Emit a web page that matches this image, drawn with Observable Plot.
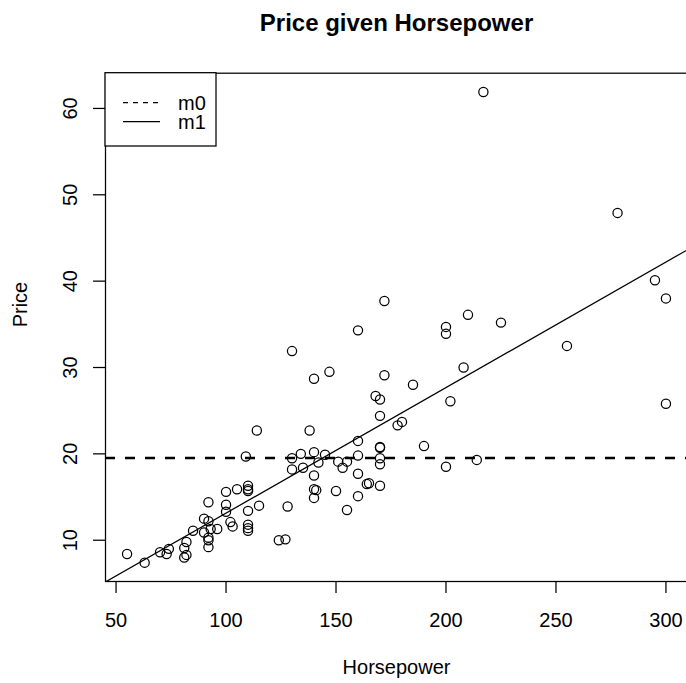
<!DOCTYPE html>
<html><head><meta charset="utf-8">
<script src="https://cdn.jsdelivr.net/npm/d3@7"></script>
<script src="https://cdn.jsdelivr.net/npm/@observablehq/plot@0.6"></script>
<style>
body{margin:0;background:#fff;}
#chart{position:relative;width:686px;height:683px;overflow:hidden;font-family:"Liberation Sans",Arial,Helvetica,sans-serif;}
#chart svg{font-family:"Liberation Sans",Arial,Helvetica,sans-serif;}
</style></head><body><div id="chart"></div>
<script>
const horsepower = [140,200,172,172,208,110,170,180,170,200,295,110,110,160,110,170,165,170,300,153,141,147,92,93,100,142,100,300,92,214,63,127,96,105,115,145,140,190,55,90,160,102,140,81,124,92,128,278,185,225,160,210,82,103,164,155,255,130,217,100,140,92,202,110,150,151,160,155,110,170,170,92,74,110,160,200,170,140,85,73,90,130,70,82,135,130,138,81,109,134,178,114,168];
const price = [15.9,33.9,29.1,37.7,30.0,15.7,20.8,23.7,26.3,34.7,40.1,13.4,11.4,15.1,15.9,16.3,16.6,18.8,38.0,18.4,15.8,29.5,9.2,11.3,13.3,19.0,15.6,25.8,12.2,19.3,7.4,10.1,11.3,15.9,14.0,19.9,20.2,20.9,8.4,12.5,19.8,12.1,17.5,8.0,10.0,10.0,13.9,47.9,28.0,35.2,34.3,36.1,8.3,11.6,16.5,19.1,32.5,31.9,61.9,14.1,14.9,10.3,26.1,11.8,15.7,19.1,21.5,13.5,16.3,19.5,20.7,14.4,9.0,11.1,17.7,18.5,24.4,28.7,11.1,8.4,10.9,19.5,8.6,9.8,18.4,18.2,22.7,9.1,19.7,20.0,23.3,22.7,26.7];
const xTicks = [50,100,150,200,250,300];
const yTicks = [10,20,30,40,50,60];
const legendLabels = ["m0","m1"];
const titleText = "Price given Horsepower";
const xLabel = "Horsepower";
const yLabel = "Price";

const data = horsepower.map((h,i)=>({hp:h, price:price[i]}));

// R-style 4% axis extension
function ext(arr){const [a,b]=d3.extent(arr);const e=(b-a)*0.04;return [a-e,b+e];}
const xDom = ext(horsepower), yDom = ext(price);

// models: m0 = mean, m1 = least squares
const m0 = d3.mean(price);
const mx = d3.mean(horsepower);
const slope = d3.sum(data, d=>(d.hp-mx)*(d.price-m0)) / d3.sum(data, d=>(d.hp-mx)**2);
const intercept = m0 - slope*mx;
const fitLine = xDom.map(x=>({hp:x, price: intercept + slope*x}));

const lw = 1.25;
const plot = Plot.plot({
  width: 686, height: 683,
  marginLeft: 105, marginRight: -1, marginTop: 72.7, marginBottom: 102,
  style: {background:"#fff", color:"#000", fontFamily:'"Liberation Sans",Arial,sans-serif', overflow:"hidden"},
  x: {domain: xDom},
  y: {domain: yDom},
  marks: [
    Plot.ruleY([m0], {stroke:"#000", strokeWidth:2.5, strokeDasharray:"10,10"}),
    Plot.line(fitLine, {x:"hp", y:"price", stroke:"#000", strokeWidth:lw, clip:true}),
    Plot.dot(data, {x:"hp", y:"price", r:4.6, stroke:"#000", strokeWidth:lw, fill:"none"}),
    Plot.frame({stroke:"#000", strokeWidth:lw}),
    Plot.axisX({ticks:xTicks, tickSize:12, tickFormat:()=>"", label:null, strokeWidth:lw}),
    Plot.axisY({ticks:yTicks, tickSize:12, tickFormat:()=>"", label:null, strokeWidth:lw}),
    Plot.text(xTicks, {x:d=>d, text:d=>String(d), frameAnchor:"bottom", dy:38.6, lineAnchor:"middle", textAnchor:"middle", fontSize:20, fill:"#000"}),
    Plot.text(yTicks, {y:d=>d, text:d=>String(d), frameAnchor:"left", dx:-35.4, rotate:-90, lineAnchor:"middle", textAnchor:"middle", fontSize:20, fill:"#000"}),
    Plot.text([xLabel], {frameAnchor:"bottom", dy:85.9, lineAnchor:"middle", fontSize:20, fill:"#000"}),
    Plot.text([yLabel], {frameAnchor:"left", dx:-85.4, rotate:-90, lineAnchor:"middle", fontSize:20, fill:"#000"}),
    Plot.text([titleText], {frameAnchor:"top", dy:-49.4, lineAnchor:"middle", fontSize:24, fontWeight:"bold", fill:"#000"})
  ]
});
const chart = document.getElementById("chart");
chart.appendChild(plot);

// legend overlay (R legend("topleft"))
const svg = d3.select(chart).append("svg")
  .attr("width",686).attr("height",683)
  .style("position","absolute").style("left","0").style("top","0")
  .style("pointer-events","none");
svg.append("rect").attr("x",105).attr("y",72.7).attr("width",111).attr("height",73.3)
  .attr("fill","#fff").attr("stroke","#000").attr("stroke-width",lw);
const styles = [{dash:"5,5"},{dash:null}];
legendLabels.forEach((lab,i)=>{
  const y = 102.7 + i*19;
  const ln = svg.append("line").attr("x1",123).attr("x2",160).attr("y1",y).attr("y2",y)
    .attr("stroke","#000").attr("stroke-width",lw);
  if (styles[i].dash) ln.attr("stroke-dasharray", styles[i].dash);
  svg.append("text").attr("x",178).attr("y",y).attr("dy","0.35em")
    .attr("font-size",20).attr("fill","#000").text(lab);
});
</script>
</body></html>
